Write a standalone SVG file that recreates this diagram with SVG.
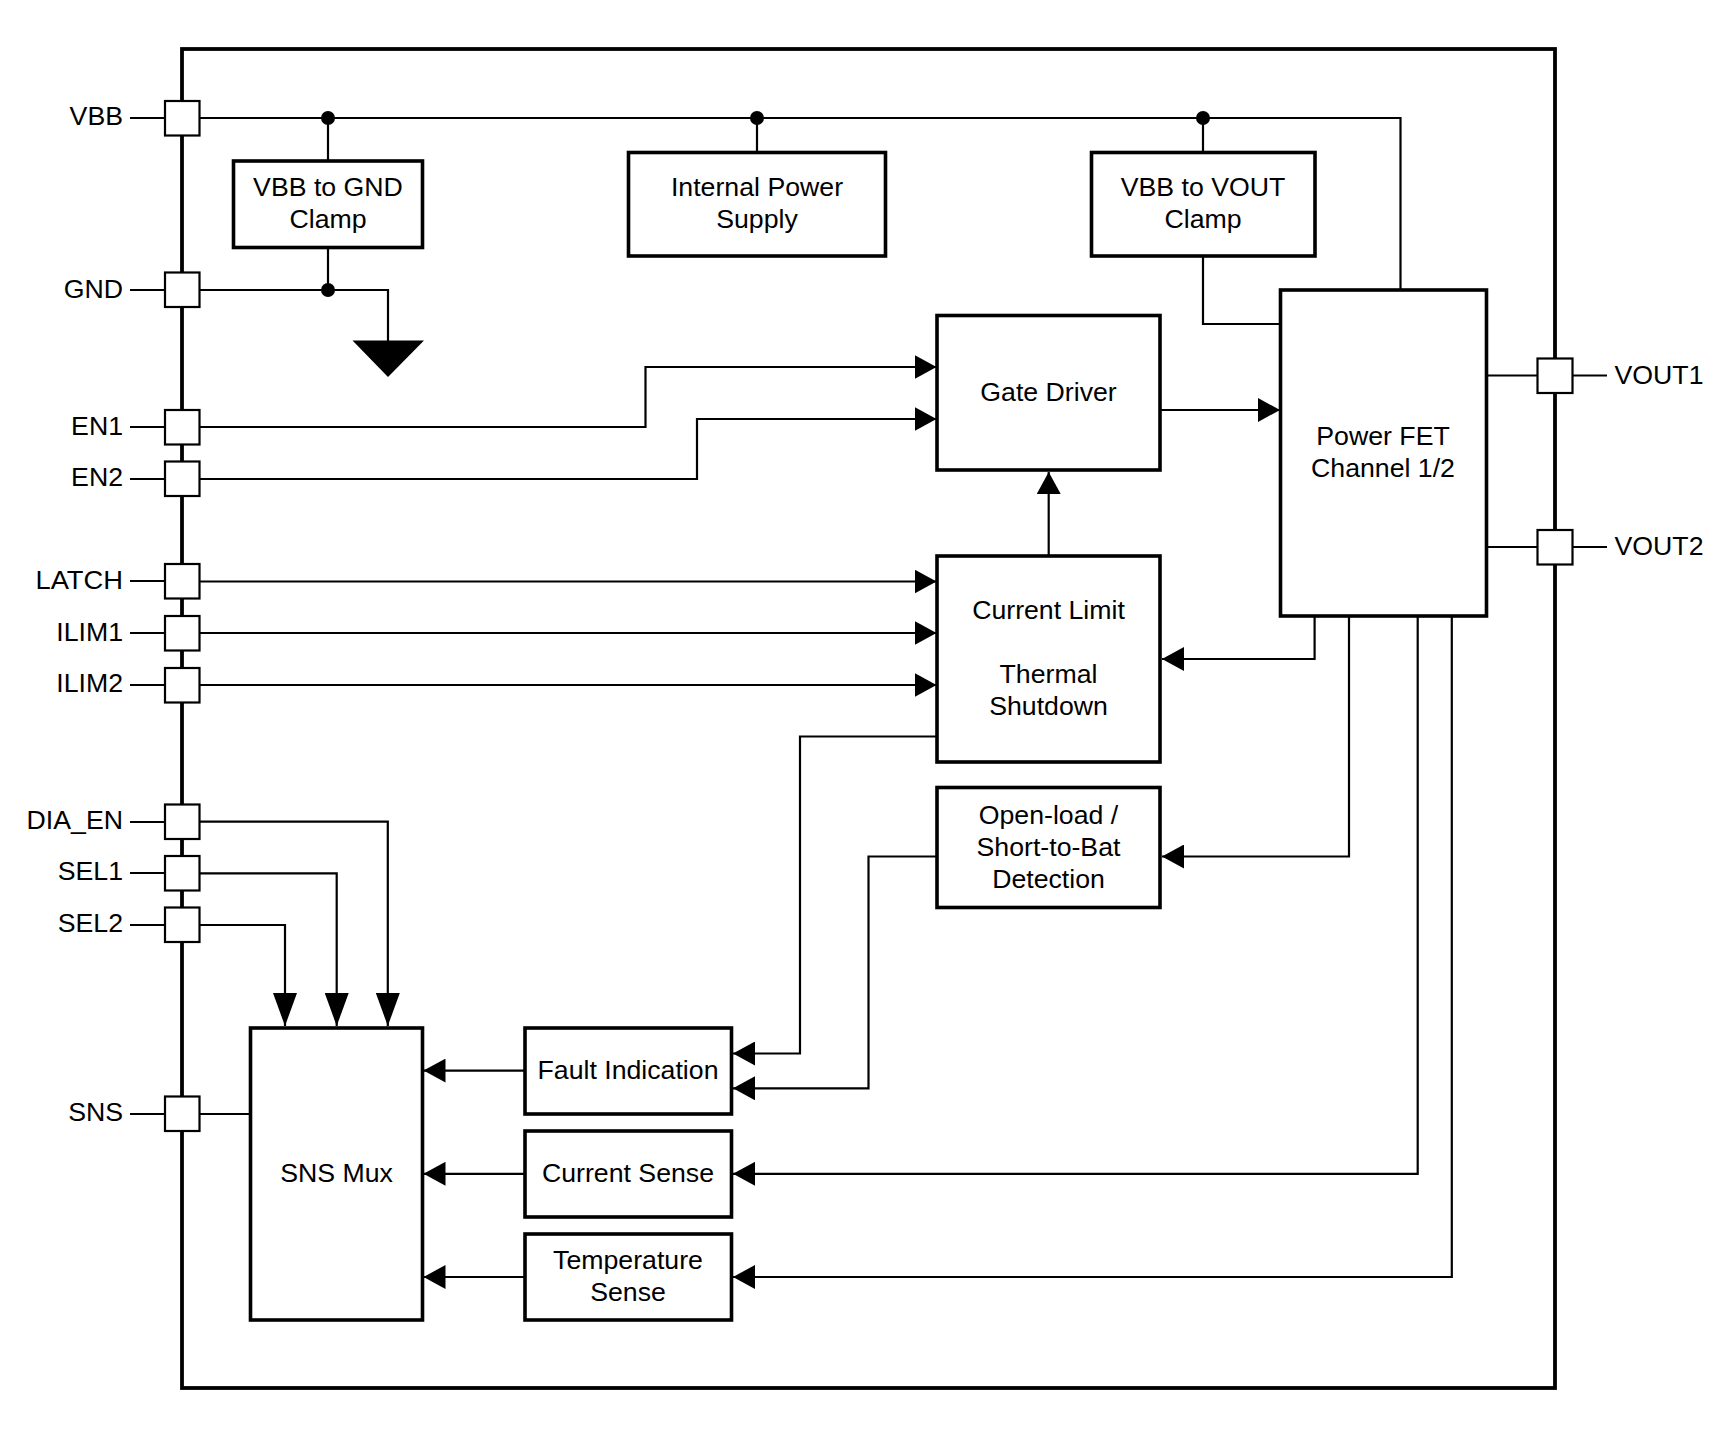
<svg xmlns="http://www.w3.org/2000/svg" width="1729" height="1454" viewBox="0 0 1729 1454">
<style>
text{font-family:"Liberation Sans",Arial,sans-serif;font-size:26.7px;fill:#000}
.c{text-anchor:middle}
.e{text-anchor:end}
.box{fill:#fff;stroke:#000;stroke-width:3.6;stroke-linejoin:miter}
.port{fill:#fff;stroke:#000;stroke-width:2.2}
.w{fill:none;stroke:#000;stroke-width:2.2}
.a{marker-end:url(#arrow)}
.l{marker-end:url(#arrowLong)}
</style>
<defs>
<marker id="arrow" markerUnits="userSpaceOnUse" markerWidth="22" markerHeight="24" refX="22" refY="12" orient="auto" viewBox="0 0 22 24"><polygon points="0,0 22,12 0,24" fill="#000"/></marker>
<marker id="arrowLong" markerUnits="userSpaceOnUse" markerWidth="33" markerHeight="24" refX="33" refY="12" orient="auto" viewBox="0 0 33 24"><polygon points="0,0 33,12 0,24" fill="#000"/></marker>
</defs>
<rect id="frame" x="182" y="49" width="1373" height="1339" fill="none" stroke="#000" stroke-width="3.8"/>
<g id="connectors">
<path class="w" d="M130 118H1400.500V290"/>
<path class="w" d="M328 118V160M757 118V152M1203 118V152"/>
<path class="w" d="M328 247V290M130 290H388V341"/>
<path class="w" d="M1203 256V324H1281"/>
<path class="w" d="M130 427H165M130 479H165M130 581H165M130 633H165M130 685H165M130 822H165M130 873H165M130 925H165M130 1114H250"/>
<path class="w" d="M1487 375.500H1607M1487 547H1607"/>
<path class="w a" d="M199 427H645.500V367H936.500"/>
<path class="w a" d="M199 479H697V419H936.500"/>
<path class="w a" d="M199 581.500H936.500"/>
<path class="w a" d="M199 633H936.500"/>
<path class="w a" d="M199 685H936.500"/>
<path class="w a" d="M1160 410H1280"/>
<path class="w a" d="M1048.700 556V472"/>
<path class="w a" d="M1314.600 616V659H1162"/>
<path class="w a" d="M1349 616V856.500H1162"/>
<path class="w a" d="M937 736.500H800V1053.500H733"/>
<path class="w a" d="M937 856.500H868.500V1088.300H733"/>
<path class="w a" d="M1417.700 616V1173.800H733"/>
<path class="w a" d="M1451.800 616V1277H733"/>
<path class="w a" d="M525 1070.600H423.500"/>
<path class="w a" d="M525 1173.800H423.500"/>
<path class="w a" d="M525 1277H423.500"/>
<path class="w l" d="M199 925H285V1026"/>
<path class="w l" d="M199 873.300H336.700V1026"/>
<path class="w l" d="M199 821.700H387.800V1026"/>
<circle cx="328" cy="118" r="7"/><circle cx="757" cy="118" r="7"/><circle cx="1203" cy="118" r="7"/><circle cx="328" cy="290" r="7"/>
<polygon id="ground" points="352.500,340.500 424,340.500 388,377"/>
</g>
<g id="pin-vbb"><rect class="port" x="165" y="101" width="34.500" height="34.500"/><text class="e" x="123" y="125">VBB</text></g>
<g id="pin-gnd"><rect class="port" x="165" y="272.500" width="34.500" height="34.500"/><text class="e" x="123" y="297.500">GND</text></g>
<g id="pin-en1"><rect class="port" x="165" y="410" width="34.500" height="34.500"/><text class="e" x="123" y="434.500">EN1</text></g>
<g id="pin-en2"><rect class="port" x="165" y="461.500" width="34.500" height="34.500"/><text class="e" x="123" y="486">EN2</text></g>
<g id="pin-latch"><rect class="port" x="165" y="564" width="34.500" height="34.500"/><text class="e" x="123" y="589" textLength="87.500" lengthAdjust="spacingAndGlyphs">LATCH</text></g>
<g id="pin-ilim1"><rect class="port" x="165" y="616" width="34.500" height="34.500"/><text class="e" x="123" y="640.500">ILIM1</text></g>
<g id="pin-ilim2"><rect class="port" x="165" y="668" width="34.500" height="34.500"/><text class="e" x="123" y="692">ILIM2</text></g>
<g id="pin-dia-en"><rect class="port" x="165" y="804.500" width="34.500" height="34.500"/><text class="e" x="123" y="829">DIA_EN</text></g>
<g id="pin-sel1"><rect class="port" x="165" y="856" width="34.500" height="34.500"/><text class="e" x="123" y="880">SEL1</text></g>
<g id="pin-sel2"><rect class="port" x="165" y="907.500" width="34.500" height="34.500"/><text class="e" x="123" y="932">SEL2</text></g>
<g id="pin-sns"><rect class="port" x="165" y="1096.500" width="34.500" height="34.500"/><text class="e" x="123" y="1121">SNS</text></g>
<g id="pin-vout1"><rect class="port" x="1537.500" y="358.500" width="35" height="34.500"/><text x="1614.500" y="384">VOUT1</text></g>
<g id="pin-vout2"><rect class="port" x="1537.500" y="530" width="35" height="34.500"/><text x="1614.500" y="554.500">VOUT2</text></g>
<g id="vbb-gnd-clamp"><rect class="box" x="233.500" y="161" width="189" height="86.500"/><text class="c" x="328" y="196">VBB to GND</text><text class="c" x="328" y="228">Clamp</text></g>
<g id="internal-power"><rect class="box" x="628.500" y="152.500" width="257" height="103.500"/><text class="c" x="757" y="196">Internal Power</text><text class="c" x="757" y="228">Supply</text></g>
<g id="vbb-vout-clamp"><rect class="box" x="1091.500" y="152.500" width="223.500" height="103.500"/><text class="c" x="1203" y="196">VBB to VOUT</text><text class="c" x="1203" y="228">Clamp</text></g>
<g id="gate-driver"><rect class="box" x="937" y="315.500" width="223" height="154.500"/><text class="c" x="1048.500" y="400.500">Gate Driver</text></g>
<g id="power-fet"><rect class="box" x="1280.500" y="290" width="206" height="326"/><text class="c" x="1383" y="445">Power FET</text><text class="c" x="1383" y="477">Channel 1/2</text></g>
<g id="current-limit"><rect class="box" x="937" y="556" width="223" height="206"/><text class="c" x="1048.500" y="619">Current Limit</text><text class="c" x="1048.500" y="683">Thermal</text><text class="c" x="1048.500" y="715">Shutdown</text></g>
<g id="open-load"><rect class="box" x="937" y="787.500" width="223" height="120"/><text class="c" x="1048.500" y="823.500">Open-load /</text><text class="c" x="1048.500" y="855.500">Short-to-Bat</text><text class="c" x="1048.500" y="887.500">Detection</text></g>
<g id="sns-mux"><rect class="box" x="250.500" y="1028" width="172" height="292"/><text class="c" x="336.500" y="1182">SNS Mux</text></g>
<g id="fault-indication"><rect class="box" x="525" y="1028" width="206.500" height="86"/><text class="c" x="628" y="1079">Fault Indication</text></g>
<g id="current-sense"><rect class="box" x="525" y="1131" width="206.500" height="86"/><text class="c" x="628" y="1182">Current Sense</text></g>
<g id="temperature-sense"><rect class="box" x="525" y="1234" width="206.500" height="86"/><text class="c" x="628" y="1269">Temperature</text><text class="c" x="628" y="1301">Sense</text></g>
</svg>
